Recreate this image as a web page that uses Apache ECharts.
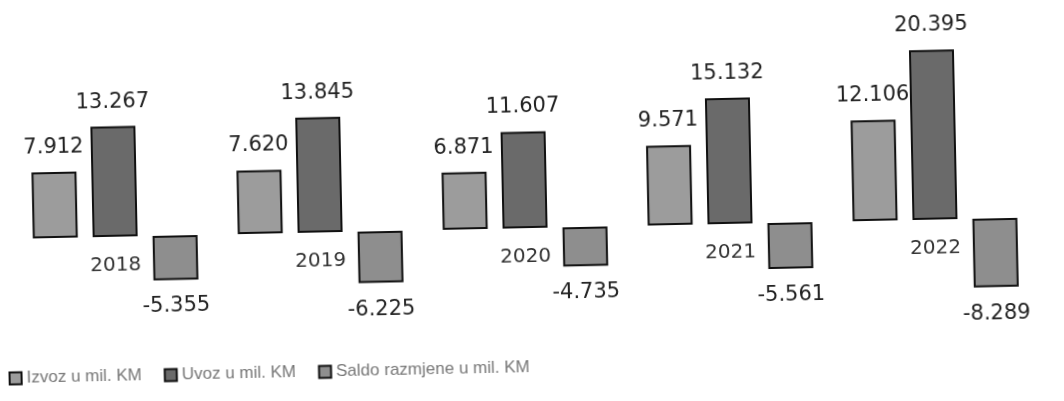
<!DOCTYPE html>
<html>
<head>
<meta charset="utf-8">
<script src="https://cdn.jsdelivr.net/npm/echarts@6/dist/echarts.min.js"></script>
<style>
  html, body { margin: 0; padding: 0; background: #fff; }
  #main { width: 1064px; height: 401px; transform: rotate(-1.2deg); transform-origin: 50% 50%; }
</style>
</head>
<body>
<div id="main"></div>
<script>
// godine i vrijednosti u mil. KM
var years = ['2018', '2019', '2020', '2021', '2022'];
var izvoz = [7912, 7620, 6871, 9571, 12106];
var uvoz = [13267, 13845, 11607, 15132, 20395];
var saldo = [-5355, -6225, -4735, -5561, -8289];
var seriesNames = ['Izvoz u mil. KM', 'Uvoz u mil. KM', 'Saldo razmjene u mil. KM'];

var yMin = -10000, yMax = 22000;
var gridTop = 45, gridHeight = 266;

var myChart = echarts.init(document.getElementById('main'));

// 13267 -> "13.267"
function fmt(v) {
	var s = String(Math.abs(v));
	var out = s.replace(/\B(?=(\d{3})+(?!\d))/g, '.');
	return (v < 0 ? '-' : '') + out;
}

var labelStyle = {
	show: true,
	fontFamily: 'DejaVu Sans',
	fontSize: 21,
	color: '#222',
	formatter: function (p) { return fmt(p.value); }
};

var option = {
	animation: false,
	backgroundColor: '#fff',
	legend: {
		left: 0,
		top: 354,
		icon: 'rect',
		itemWidth: 12,
		itemHeight: 12,
		itemGap: 22,
		textStyle: {
			fontFamily: 'Liberation Sans',
			fontSize: 17,
			color: '#777'
		},
		data: seriesNames
	},
	grid: {
		left: 12,
		width: 1025,
		top: gridTop,
		height: gridHeight
	},
	xAxis: {
		type: 'category',
		data: years,
		position: 'bottom',
		// os kategorija na nuli
		offset: -Math.round(gridHeight * (0 - yMin) / (yMax - yMin)),
		axisLine: { show: false, onZero: false },
		axisTick: { show: false },
		axisLabel: {
			margin: 19,
			fontFamily: 'DejaVu Sans',
			fontSize: 20,
			color: '#333'
		}
	},
	yAxis: {
		type: 'value',
		min: yMin,
		max: yMax,
		axisLine: { show: false },
		axisTick: { show: false },
		axisLabel: { show: false },
		splitLine: { show: false }
	},
	series: [
		{
			name: seriesNames[0],
			type: 'bar',
			z: 2,
			data: izvoz,
			barWidth: 45,
			barGap: '33%',
			itemStyle: { color: '#9c9c9c', borderColor: '#111', borderWidth: 2 },
			label: Object.assign({ position: 'top', distance: 14 }, labelStyle)
		},
		{
			name: seriesNames[1],
			type: 'bar',
			z: 3,
			data: uvoz,
			barWidth: 45,
			barGap: '33%',
			itemStyle: { color: '#6a6a6a', borderColor: '#111', borderWidth: 2 },
			label: Object.assign({ position: 'top', distance: 14 }, labelStyle)
		},
		{
			name: seriesNames[2],
			type: 'bar',
			z: 4,
			data: saldo,
			barWidth: 45,
			barGap: '33%',
			itemStyle: { color: '#8e8e8e', borderColor: '#111', borderWidth: 2 },
			label: Object.assign({ position: 'bottom', distance: 16 }, labelStyle)
		}
	]
};

myChart.setOption(option);
</script>
</body>
</html>
